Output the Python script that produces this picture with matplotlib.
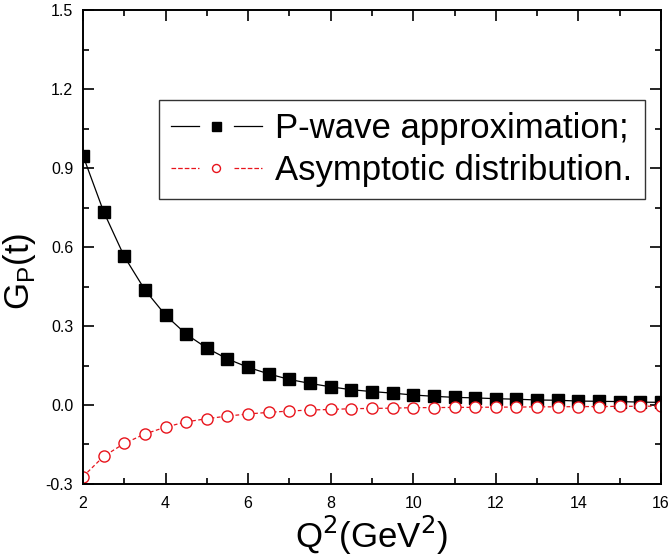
import numpy as np
import matplotlib
matplotlib.use("Agg")
import matplotlib.pyplot as plt
from matplotlib.lines import Line2D
from matplotlib.legend_handler import HandlerBase
from matplotlib.ticker import MultipleLocator, FormatStrFormatter

plt.rcParams['font.family'] = ['Liberation Sans', 'DejaVu Sans']

# Q^2 values (GeV^2)
q2 = [2.0, 2.5, 3.0, 3.5, 4.0, 4.5, 5.0, 5.5, 6.0, 6.5, 7.0, 7.5, 8.0, 8.5, 9.0,
      9.5, 10.0, 10.5, 11.0, 11.5, 12.0, 12.5, 13.0, 13.5, 14.0, 14.5, 15.0, 15.5, 16.0]

# P-wave approximation
gp_pwave = [0.947, 0.734, 0.564, 0.437, 0.341, 0.269, 0.216, 0.175, 0.143, 0.118,
            0.097, 0.082, 0.069, 0.058, 0.051, 0.045, 0.038, 0.033, 0.029, 0.027,
            0.024, 0.022, 0.019, 0.018, 0.015, 0.014, 0.013, 0.011, 0.010]

# asymptotic distribution
gp_asym = [-0.272, -0.195, -0.146, -0.110, -0.084, -0.064, -0.052, -0.042, -0.034,
           -0.028, -0.023, -0.019, -0.017, -0.014, -0.013, -0.012, -0.010, -0.010,
           -0.009, -0.009, -0.008, -0.008, -0.007, -0.007, -0.006, -0.006, -0.005,
           -0.005, -0.004]


class GapHandler(HandlerBase):
    """ legend entry like origin: line - marker - line, with gaps """
    def create_artists(self, legend, orig, xdescent, ydescent, width, height,
                       fontsize, trans):
        x0 = -xdescent
        x1 = width - xdescent
        xm = 0.5 * (x0 + x1)
        ym = 0.5 * (height - ydescent)
        g = 0.19 * width
        kw = dict(color=orig.get_color(), lw=orig.get_linewidth(),
                  ls=orig.get_linestyle())
        l1 = Line2D([x0, xm - g], [ym, ym], **kw)
        l2 = Line2D([xm + g, x1], [ym, ym], **kw)
        m = Line2D([xm], [ym], ls='none', marker=orig.get_marker(),
                   ms=orig.get_markersize() * 0.72, mfc=orig.get_markerfacecolor(),
                   mec=orig.get_markeredgecolor(), mew=orig.get_markeredgewidth())
        for a in (l1, l2, m):
            a.set_transform(trans)
        return [l1, l2, m]


fig = plt.figure(figsize=(6.71, 5.56), dpi=100)
ax = fig.add_axes([0.1237, 0.1295, 0.8613, 0.8525])

p1, = ax.plot(q2, gp_pwave, color='black', lw=0.9, marker='s', ms=9,
              mfc='black', mec='black', label='P-wave approximation;')
p2, = ax.plot(q2, gp_asym, color='#e8141c', lw=0.9, ls=(0, (3, 2)), marker='o', ms=8,
              mfc='white', mec='#e8141c', mew=1.0, label='Asymptotic distribution.')

ax.set_xlim(2, 16)
ax.set_ylim(-0.3, 1.5)
ax.xaxis.set_major_locator(MultipleLocator(2))
ax.xaxis.set_minor_locator(MultipleLocator(1))
ax.yaxis.set_major_locator(MultipleLocator(0.3))
ax.yaxis.set_minor_locator(MultipleLocator(0.15))
ax.yaxis.set_major_formatter(FormatStrFormatter('%.1f'))

ax.tick_params(which='both', direction='in', top=True, right=True, width=1.2,
               labelsize=11.5)
ax.tick_params(axis='x', pad=9)
ax.tick_params(axis='y', pad=7)
ax.tick_params(which='major', length=8)
ax.tick_params(which='minor', length=4.5)
for sp in ax.spines.values():
    sp.set_linewidth(1.4)

ax.set_xlabel(r'Q$^2$(GeV$^2$)', fontsize=25, labelpad=2)
ax.set_ylabel(r'G$_\mathregular{P}$(t)', fontsize=25)
ax.yaxis.set_label_coords(-0.078, 0.448)

leg = ax.legend(handles=[p1, p2], loc='upper right', bbox_to_anchor=(0.972, 0.81),
                fontsize=25, frameon=True, fancybox=False, edgecolor='black',
                handler_map={Line2D: GapHandler()}, borderaxespad=0,
                handlelength=2.6, handletextpad=0.4, borderpad=0.35,
                labelspacing=0.25)
leg.get_frame().set_linewidth(1.0)

fig.savefig('out.png', dpi=100)
